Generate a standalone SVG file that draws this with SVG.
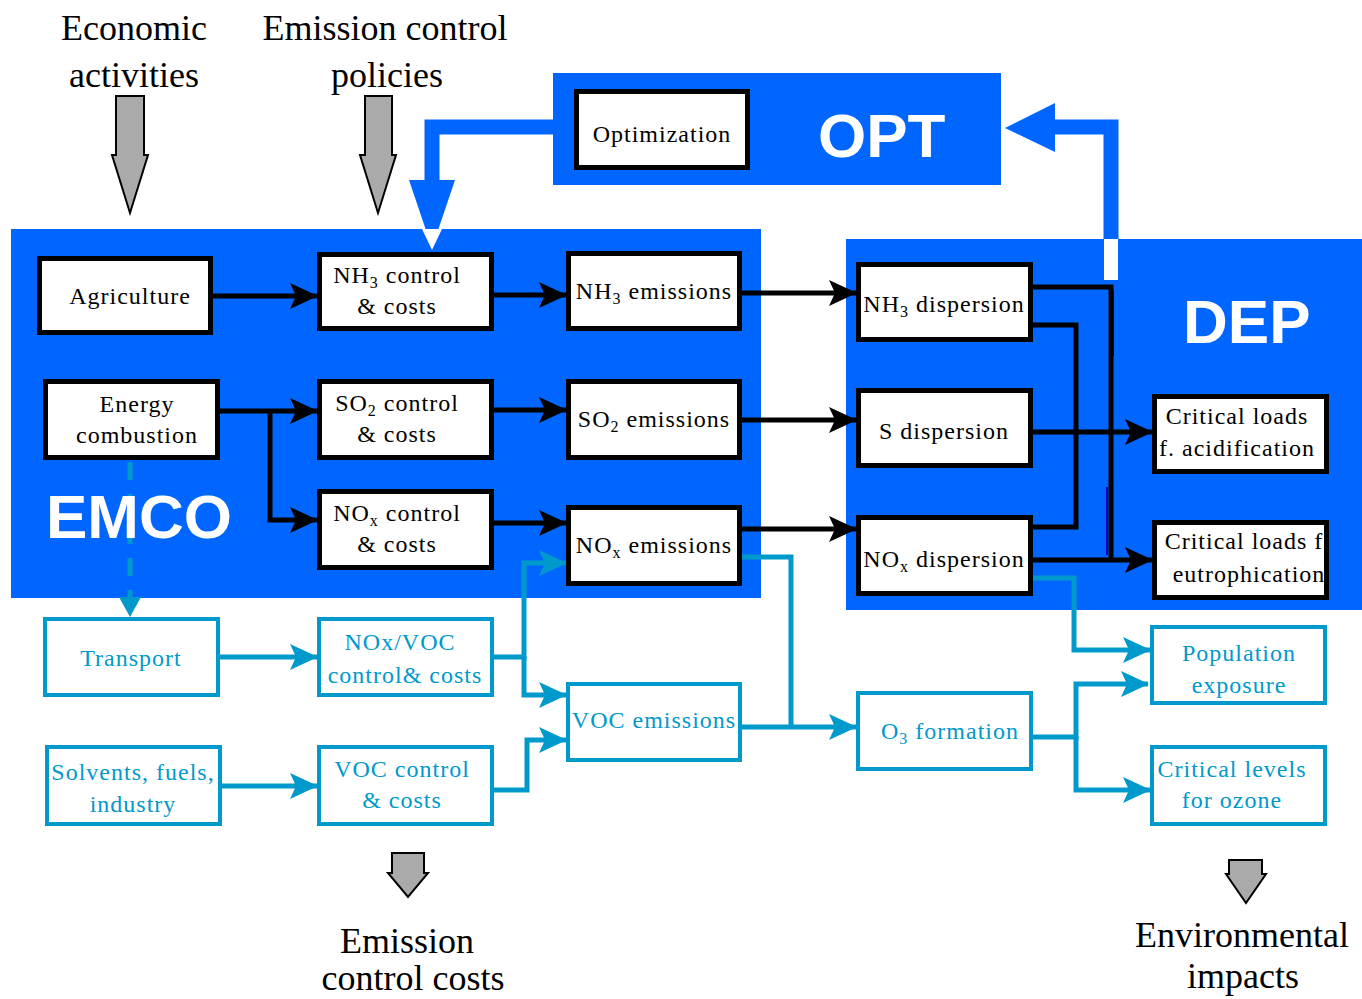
<svg xmlns="http://www.w3.org/2000/svg" width="1362" height="999" viewBox="0 0 1362 999">
<style>
.panel{fill:#0066FF}
.bb{fill:#fff;stroke:#000;stroke-width:5}
.tb{fill:#fff;stroke:#0099CC;stroke-width:4}
.bt{font-family:"Liberation Serif",serif;font-size:24px;letter-spacing:1px;text-anchor:middle;fill:#000}
.tt{font-family:"Liberation Serif",serif;font-size:24px;letter-spacing:1px;text-anchor:middle;fill:#0099CC}
.head{font-family:"Liberation Serif",serif;font-size:36px;text-anchor:middle;fill:#000}
.big{font-family:"Liberation Sans",Arial,sans-serif;font-size:62px;font-weight:bold;fill:#fff}
.bl{fill:none;stroke:#000;stroke-width:5}
.tl{fill:none;stroke:#0099CC;stroke-width:5}
.gray{fill:#aaaaaa;stroke:#000;stroke-width:2}
.fb{fill:none;stroke:#0066FF;stroke-width:15}
</style>
<defs>
<marker id="ab" markerUnits="userSpaceOnUse" viewBox="0 0 28 28" markerWidth="28" markerHeight="28" refX="27" refY="14" orient="auto"><path d="M0,1 L28,14 L0,27 L6,14 Z" fill="#000"/></marker>
<marker id="at" markerUnits="userSpaceOnUse" viewBox="0 0 28 28" markerWidth="28" markerHeight="28" refX="27" refY="14" orient="auto"><path d="M0,1 L28,14 L0,27 L6,14 Z" fill="#0099CC"/></marker>
<clipPath id="cEut"><rect x="1157" y="525" width="167" height="70"/></clipPath>
<clipPath id="cVoc"><rect x="570" y="686" width="168" height="72"/></clipPath>
</defs>

<!-- panels -->
<g id="panels">
<rect class="panel" x="553" y="73" width="448" height="112"/>
<rect class="panel" x="11" y="229" width="750" height="369"/>
<rect class="panel" x="846" y="239" width="516" height="371"/>
<text class="big" x="818" y="157">OPT</text>
<text class="big" x="1183" y="343">DEP</text>
</g>

<!-- headings and gray arrows -->
<g id="headings">
<text class="head" x="134" y="40">Economic</text>
<text class="head" x="134" y="87">activities</text>
<text class="head" x="385" y="40">Emission control</text>
<text class="head" x="387" y="87">policies</text>
<text class="head" x="407" y="953">Emission</text>
<text class="head" x="413" y="990">control costs</text>
<text class="head" x="1242" y="947">Environmental</text>
<text class="head" x="1243" y="988">impacts</text>
<path class="gray" d="M116,96 H144 V155 H148 L130,213 L112,155 H116 Z"/>
<path class="gray" d="M365,96 H392 V155 H396 L378,213 L360,155 H365 Z"/>
<path class="gray" d="M392,853 H424 V873 H428 L408,897 L388,873 H392 Z"/>
<path class="gray" d="M1229,860 H1262 V874 H1266 L1246,903 L1226,874 H1229 Z"/>
</g>

<!-- connectors -->
<g id="connectors">
<path class="fb" d="M553,127 H432 V185"/>
<polygon points="409,180 455,180 432,248" fill="#0066FF"/>
<polygon points="422,229 442,229 432,250" fill="#fff"/>
<path class="fb" d="M1111,239 V127 H1050"/>
<polygon points="1055,103 1055,152 1005,128" fill="#0066FF"/>
<line x1="1111" y1="239" x2="1111" y2="280" stroke="#fff" stroke-width="14"/>
<line x1="1113" y1="290" x2="1113" y2="356" stroke="#0000CC" stroke-width="2"/>
<line x1="1107" y1="487" x2="1107" y2="555" stroke="#0000CC" stroke-width="2"/>

<path class="bl" d="M213,296 H317" marker-end="url(#ab)"/>
<path class="bl" d="M494,295 H566" marker-end="url(#ab)"/>
<path class="bl" d="M742,293 H856" marker-end="url(#ab)"/>
<path class="bl" d="M220,411 H317" marker-end="url(#ab)"/>
<path class="bl" d="M270,411 V520 H317" marker-end="url(#ab)"/>
<path class="bl" d="M494,410 H566" marker-end="url(#ab)"/>
<path class="bl" d="M742,420 H856" marker-end="url(#ab)"/>
<path class="bl" d="M494,523 H566" marker-end="url(#ab)"/>
<path class="bl" d="M742,529 H856" marker-end="url(#ab)"/>
<path class="bl" d="M1033,325 H1076 V527 H1033"/>
<path class="bl" d="M1033,287 H1111 V560"/>
<path class="bl" d="M1033,432 H1152" marker-end="url(#ab)"/>
<path class="bl" d="M1033,560 H1152" marker-end="url(#ab)"/>

<path class="tl" d="M130,462 V600" stroke-dasharray="18 14"/>
<polygon points="119,597 141,597 130,617" fill="#0099CC"/>
<path class="tl" d="M220,657 H317" marker-end="url(#at)"/>
<path class="tl" d="M222,786 H317" marker-end="url(#at)"/>
<path class="tl" d="M494,657 H524 V563 H566" marker-end="url(#at)"/>
<path class="tl" d="M524,657 V695 H566" marker-end="url(#at)"/>
<path class="tl" d="M494,790 H527 V740 H566" marker-end="url(#at)"/>
<path class="tl" d="M742,557 H791 V727"/>
<path class="tl" d="M742,727 H856" marker-end="url(#at)"/>
<path class="tl" d="M1033,578 H1074 V650 H1150" marker-end="url(#at)"/>
<path class="tl" d="M1033,737 H1076 V684 H1148" marker-end="url(#at)"/>
<path class="tl" d="M1076,737 V790 H1150" marker-end="url(#at)"/>
</g>

<g id="emco-label"><text class="big" x="46" y="538">EMCO</text></g>

<!-- black nodes -->
<g id="optimization"><rect class="bb" x="576.5" y="91.5" width="171" height="76"/><text class="bt" x="662" y="142">Optimization</text></g>
<g id="agriculture"><rect class="bb" x="39.5" y="258.5" width="171" height="74"/><text class="bt" x="130" y="304">Agriculture</text></g>
<g id="energy"><rect class="bb" x="45.5" y="381.5" width="172" height="76"/><text class="bt" x="137" y="412">Energy</text><text class="bt" x="137" y="443">combustion</text></g>
<g id="nh3control"><rect class="bb" x="319.5" y="254.5" width="172" height="74"/><text class="bt" x="397" y="283">NH<tspan font-size="16" dy="5">3</tspan><tspan dy="-5"> control</tspan></text><text class="bt" x="397" y="314">&amp; costs</text></g>
<g id="so2control"><rect class="bb" x="319.5" y="381.5" width="172" height="76"/><text class="bt" x="397" y="411">SO<tspan font-size="16" dy="5">2</tspan><tspan dy="-5"> control</tspan></text><text class="bt" x="397" y="442">&amp; costs</text></g>
<g id="noxcontrol"><rect class="bb" x="319.5" y="491.5" width="172" height="76"/><text class="bt" x="397" y="521">NO<tspan font-size="16" dy="5">x</tspan><tspan dy="-5"> control</tspan></text><text class="bt" x="397" y="552">&amp; costs</text></g>
<g id="nh3em"><rect class="bb" x="568.5" y="253.5" width="171" height="75"/><text class="bt" x="654" y="299">NH<tspan font-size="16" dy="5">3</tspan><tspan dy="-5"> emissions</tspan></text></g>
<g id="so2em"><rect class="bb" x="568.5" y="381.5" width="171" height="76"/><text class="bt" x="654" y="427">SO<tspan font-size="16" dy="5">2</tspan><tspan dy="-5"> emissions</tspan></text></g>
<g id="noxem"><rect class="bb" x="568.5" y="507.5" width="171" height="76"/><text class="bt" x="654" y="553">NO<tspan font-size="16" dy="5">x</tspan><tspan dy="-5"> emissions</tspan></text></g>
<g id="nh3disp"><rect class="bb" x="858.5" y="264.5" width="172" height="75"/><text class="bt" x="944" y="312">NH<tspan font-size="16" dy="5">3</tspan><tspan dy="-5"> dispersion</tspan></text></g>
<g id="sdisp"><rect class="bb" x="858.5" y="390.5" width="172" height="75"/><text class="bt" x="944" y="439">S dispersion</text></g>
<g id="noxdisp"><rect class="bb" x="858.5" y="517.5" width="172" height="76"/><text class="bt" x="944" y="567">NO<tspan font-size="16" dy="5">x</tspan><tspan dy="-5"> dispersion</tspan></text></g>
<g id="critacid"><rect class="bb" x="1154.5" y="396.5" width="172" height="75"/><text class="bt" x="1237" y="424">Critical loads</text><text class="bt" x="1237" y="456">f. acidification</text></g>
<g id="criteutro"><rect class="bb" x="1154.5" y="522.5" width="172" height="75"/><g clip-path="url(#cEut)"><text class="bt" x="1244" y="549">Critical loads f</text><text class="bt" x="1249" y="582">eutrophication</text></g></g>

<!-- teal nodes -->
<g id="transport"><rect class="tb" x="45" y="619" width="173" height="76"/><text class="tt" x="131" y="666">Transport</text></g>
<g id="noxvoccontrol"><rect class="tb" x="319" y="619" width="173" height="76"/><text class="tt" x="400" y="650">NOx/VOC</text><text class="tt" x="405" y="683">control&amp; costs</text></g>
<g id="solvents"><rect class="tb" x="47" y="747" width="173" height="77"/><text class="tt" x="133" y="780">Solvents, fuels,</text><text class="tt" x="133" y="812">industry</text></g>
<g id="voccontrol"><rect class="tb" x="319" y="747" width="173" height="77"/><text class="tt" x="402" y="777">VOC  control</text><text class="tt" x="402" y="808">&amp; costs</text></g>
<g id="vocem"><rect class="tb" x="568" y="684" width="172" height="76"/><g clip-path="url(#cVoc)"><text class="tt" x="654" y="728">VOC emissions</text></g></g>
<g id="o3"><rect class="tb" x="858" y="693" width="173" height="76"/><text class="tt" x="950" y="739">O<tspan font-size="16" dy="5">3</tspan><tspan dy="-5"> formation</tspan></text></g>
<g id="population"><rect class="tb" x="1152" y="627" width="173" height="76"/><text class="tt" x="1239" y="661">Population</text><text class="tt" x="1239" y="693">exposure</text></g>
<g id="critozone"><rect class="tb" x="1152" y="747" width="173" height="77"/><text class="tt" x="1232" y="777">Critical levels</text><text class="tt" x="1232" y="808">for ozone</text></g>
</svg>
